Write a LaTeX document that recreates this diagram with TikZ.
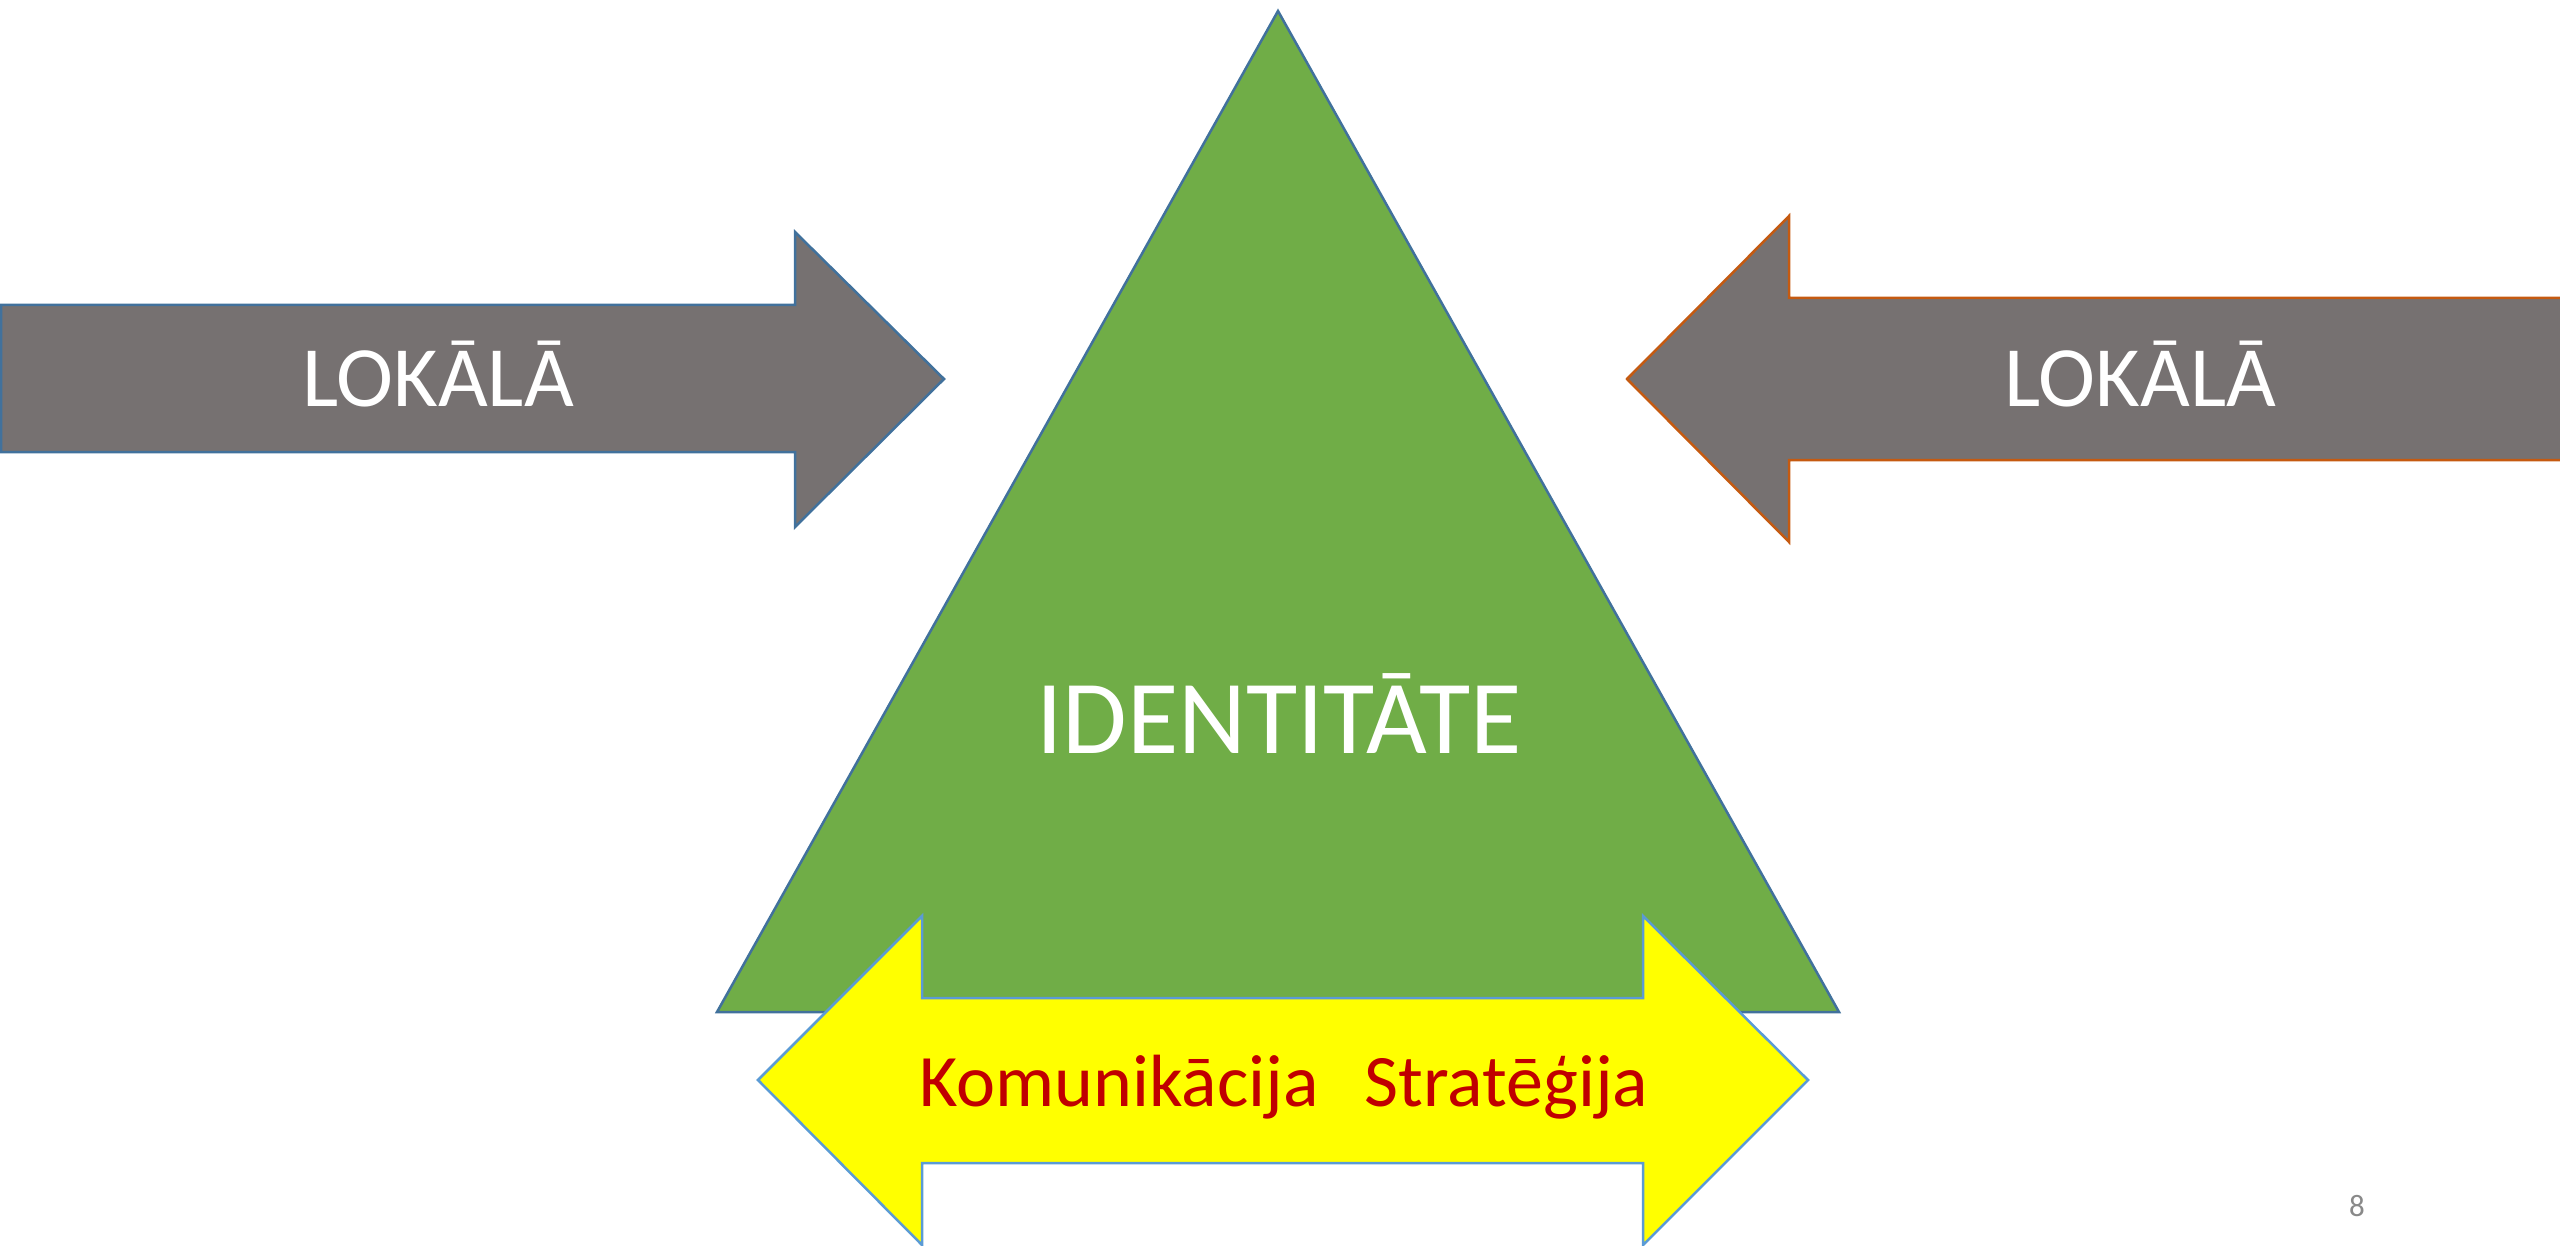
\documentclass[tikz,border=0pt]{standalone}
\usepackage{fontspec}
\setmainfont{Carlito}
\definecolor{arrgray}{HTML}{767171}
\definecolor{trigreen}{HTML}{70AD47}
\definecolor{darkblue}{HTML}{41719C}
\definecolor{lightblue}{HTML}{5B9BD5}
\definecolor{rustorange}{HTML}{C55A11}
\definecolor{textred}{HTML}{C00000}
\definecolor{pagegray}{HTML}{898989}
\definecolor{pureyellow}{HTML}{FFFF00}
\tikzset{
  shapeline/.style={line width=2.5pt, line join=miter},
  lokala/.style={text=white, font=\fontsize{86}{100}\selectfont, inner sep=0pt, anchor=base},
}
\begin{document}
\begin{tikzpicture}[x=1pt,y=-1pt]
\useasboundingbox (0,0) rectangle (2560,1246);
% triangle
\draw[shapeline, draw=darkblue, fill=trigreen] (717,1012) -- (1278,11) -- (1839,1012) -- cycle;
% left arrow
\draw[shapeline, draw=darkblue, fill=arrgray]
  (1,305) -- (795,305) -- (795,232) -- (944,379) -- (795,527) -- (795,452) -- (1,452) -- cycle;
% right arrow
\draw[shapeline, draw=rustorange, fill=arrgray]
  (2562,298) -- (1789,298) -- (1789,216) -- (1627,379) -- (1789,542) -- (1789,460) -- (2562,460);
% yellow double arrow
\draw[shapeline, draw=lightblue, fill=pureyellow]
  (758,1080) -- (922,916) -- (922,998) -- (1643,998) -- (1643,916) -- (1808,1080)
  -- (1643,1245) -- (1643,1163) -- (922,1163) -- (922,1245) -- cycle;
% texts
\node[lokala] (lokL) at (438,407) {LOKĀLĀ};
\node[lokala] (lokR) at (2140,407) {LOKĀLĀ};
\node[text=white, font=\fontsize{105}{120}\selectfont, inner sep=0pt, anchor=base] (ident) at (1279,753) {IDENTITĀTE};
\node[text=textred, font=\fontsize{74}{88}\selectfont, inner sep=0pt, anchor=base] (komstr) at (1284,1106) {Komunikācija\hspace{46pt}Stratēģija};
\node[text=pagegray, font=\fontsize{31}{36}\selectfont, inner sep=0pt, anchor=base] (pagenum) at (2357,1216) {8};
\end{tikzpicture}
\end{document}
